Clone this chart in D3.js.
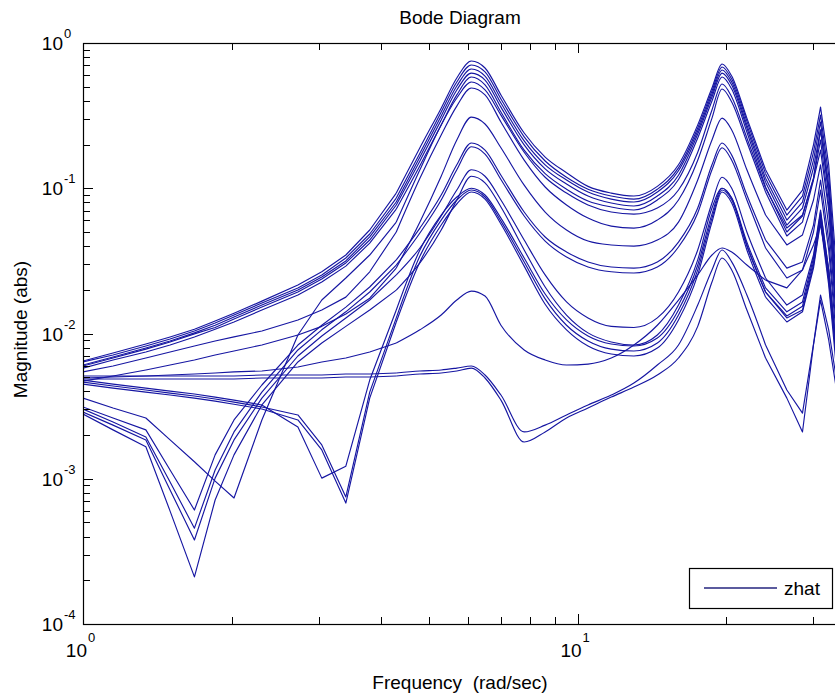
<!DOCTYPE html>
<html>
<head>
<meta charset="utf-8">
<title>Bode Diagram</title>
<script src="https://cdn.jsdelivr.net/npm/d3@7/dist/d3.min.js"></script>
<style>
  html, body { margin: 0; padding: 0; background: #fff; }
  svg { display: block; }
  text { font-family: "Liberation Sans", Arial, Helvetica, sans-serif; fill: #000; }
</style>
</head>
<body>
<svg id="chart" width="835" height="698"></svg>
<script>
// Frequency grid (rad/sec) shared by every response
const freq = [1, 1.15, 1.34, 1.5, 1.68, 1.85, 2.02, 2.3, 2.72, 3.04, 3.4, 3.8, 4.3, 4.8, 5.3, 5.7, 6.1, 6.5, 7.0, 7.8,
              8.6, 9.5, 10.5, 11.7, 13, 14.5, 16, 17.5, 18.7, 19.6, 20.5, 22, 24, 26.5, 28.5, 30, 31, 32.2, 33.4];

// Magnitude (abs) of each channel of zhat
const zhat01 = [0.00646,0.00734,0.00846,0.00947,0.0107,0.0122,0.0138,0.0167,0.0216,0.0266,0.0347,0.0516,0.0926,0.190,0.356,0.574,0.752,0.673,0.439,0.240,0.164,0.128,0.103,0.0926,0.0884,0.103,0.145,0.273,0.490,0.717,0.592,0.304,0.134,0.0708,0.0972,0.199,0.362,0.145,0.0274];
const zhat02 = [0.00637,0.00711,0.00820,0.00916,0.0104,0.0118,0.0134,0.0162,0.0206,0.0253,0.0331,0.0484,0.0856,0.174,0.335,0.539,0.706,0.632,0.412,0.226,0.154,0.119,0.0985,0.0884,0.0842,0.0985,0.138,0.260,0.467,0.684,0.565,0.290,0.126,0.0654,0.0884,0.177,0.319,0.123,0.0216];
const zhat03 = [0.00607,0.00689,0.00794,0.00888,0.0101,0.0114,0.0130,0.0157,0.0199,0.0245,0.0316,0.0462,0.0804,0.164,0.314,0.506,0.662,0.592,0.386,0.212,0.145,0.114,0.0942,0.0842,0.0804,0.0942,0.132,0.248,0.446,0.652,0.539,0.273,0.117,0.0604,0.0804,0.156,0.286,0.105,0.0170];
const zhat04 = [0.00597,0.00678,0.00781,0.00874,0.00994,0.0110,0.0126,0.0152,0.0193,0.0237,0.0306,0.0440,0.0767,0.154,0.295,0.475,0.621,0.556,0.362,0.199,0.136,0.107,0.0884,0.0791,0.0755,0.0884,0.123,0.236,0.425,0.621,0.514,0.260,0.110,0.0558,0.0731,0.138,0.252,0.0898,0.0145];
const zhat05 = [0.00578,0.00657,0.00746,0.00833,0.00947,0.0107,0.0120,0.0145,0.0184,0.0226,0.0291,0.0419,0.0719,0.143,0.273,0.439,0.583,0.514,0.335,0.183,0.126,0.0985,0.0817,0.0743,0.0708,0.0830,0.115,0.222,0.399,0.583,0.482,0.244,0.102,0.0500,0.0644,0.117,0.215,0.0767,0.0124];
const zhat06 = [0.00544,0.00597,0.00678,0.00746,0.00820,0.00888,0.00947,0.0104,0.0124,0.0145,0.0178,0.0266,0.0500,0.117,0.233,0.368,0.490,0.439,0.286,0.156,0.102,0.0767,0.0623,0.0549,0.0532,0.0604,0.0830,0.156,0.304,0.482,0.392,0.208,0.0942,0.0469,0.0585,0.114,0.183,0.0708,0.0170];
const zhat07 = [0.00470,0.00510,0.00561,0.00607,0.00657,0.00711,0.00758,0.00833,0.00977,0.0112,0.0136,0.0175,0.0282,0.0585,0.121,0.215,0.309,0.277,0.190,0.105,0.0686,0.0516,0.0433,0.0407,0.0400,0.0440,0.0585,0.114,0.215,0.304,0.252,0.134,0.0654,0.0407,0.0477,0.0830,0.145,0.0558,0.0124];
const zhat08 = [0.00359,0.00307,0.00262,0.00185,0.00131,0.000964,0.000737,0.00254,0.00977,0.0170,0.0241,0.0347,0.0585,0.134,0.273,0.418,0.539,0.475,0.319,0.177,0.119,0.0926,0.0767,0.0686,0.0664,0.0731,0.0972,0.177,0.346,0.522,0.425,0.222,0.100,0.0532,0.0654,0.117,0.252,0.0972,0.0199];
const zhat09 = [0.00312,0.00262,0.00217,0.00115,0.000609,0.00146,0.00254,0.00442,0.00833,0.0114,0.0152,0.0209,0.0321,0.0532,0.0898,0.145,0.205,0.183,0.123,0.0686,0.0462,0.0364,0.0311,0.0287,0.0282,0.0311,0.0426,0.0731,0.145,0.205,0.169,0.0898,0.0440,0.0282,0.0311,0.0558,0.114,0.0440,0.0106];
const zhat10 = [0.00302,0.00246,0.00194,0.000950,0.000457,0.00115,0.00210,0.00395,0.00770,0.0106,0.0141,0.0193,0.0296,0.0492,0.0830,0.134,0.193,0.172,0.115,0.0644,0.0433,0.0336,0.0287,0.0266,0.0261,0.0287,0.0394,0.0675,0.134,0.190,0.156,0.0830,0.0388,0.0241,0.0274,0.0500,0.0972,0.0376,0.00902];
const zhat11 = [0.00288,0.00234,0.00185,0.000837,0.000379,0.00101,0.00185,0.00359,0.00700,0.00961,0.0128,0.0170,0.0253,0.0388,0.0644,0.0972,0.134,0.121,0.0830,0.0440,0.0253,0.0165,0.0128,0.0112,0.0110,0.0128,0.0193,0.0376,0.0791,0.119,0.100,0.0500,0.0241,0.0157,0.0184,0.0347,0.0708,0.0274,0.00770];
const zhat12 = [0.00279,0.00217,0.00166,0.000599,0.000211,0.000714,0.00146,0.00322,0.00637,0.00860,0.0112,0.0145,0.0199,0.0306,0.0516,0.0830,0.121,0.109,0.0743,0.0376,0.0209,0.0134,0.0101,0.00874,0.00833,0.00977,0.0157,0.0321,0.0731,0.100,0.0856,0.0407,0.0193,0.0128,0.0145,0.0296,0.0604,0.0233,0.00657];
const zhat13 = [0.00478,0.00448,0.00421,0.00401,0.00383,0.00365,0.00348,0.00322,0.00227,0.00101,0.00122,0.00478,0.0145,0.0376,0.0654,0.0870,0.100,0.0898,0.0623,0.0331,0.0187,0.0124,0.00961,0.00846,0.00820,0.00931,0.0145,0.0296,0.0664,0.100,0.0856,0.0426,0.0206,0.0141,0.0165,0.0331,0.0686,0.0274,0.00711];
const zhat14 = [0.00463,0.00435,0.00408,0.00389,0.00371,0.00354,0.00337,0.00312,0.00275,0.00171,0.000749,0.00395,0.0128,0.0341,0.0604,0.0830,0.0972,0.0870,0.0594,0.0311,0.0173,0.0114,0.00888,0.00781,0.00758,0.00860,0.0134,0.0274,0.0623,0.0972,0.0830,0.0400,0.0193,0.0132,0.0154,0.0311,0.0644,0.0241,0.00637];
const zhat15 = [0.00448,0.00421,0.00395,0.00377,0.00359,0.00342,0.00326,0.00302,0.00254,0.00158,0.000680,0.00359,0.0120,0.0311,0.0558,0.0779,0.0942,0.0842,0.0567,0.0291,0.0159,0.0106,0.00820,0.00722,0.00700,0.00794,0.0124,0.0253,0.0585,0.0942,0.0791,0.0376,0.0178,0.0120,0.0141,0.0282,0.0585,0.0216,0.00561];
const zhat16 = [0.00494,0.00502,0.00510,0.00518,0.00526,0.00535,0.00544,0.00552,0.00588,0.00637,0.00678,0.00746,0.00860,0.0106,0.0134,0.0170,0.0196,0.0181,0.0114,0.00770,0.00657,0.00607,0.00616,0.00678,0.00833,0.0114,0.0170,0.0253,0.0347,0.0388,0.0364,0.0296,0.0233,0.0206,0.0274,0.0407,0.0558,0.0274,0.00770];
const zhat17 = [0.00510,0.00510,0.00510,0.00510,0.00510,0.00510,0.00510,0.00518,0.00518,0.00518,0.00526,0.00526,0.00535,0.00552,0.00561,0.00578,0.00597,0.00518,0.00377,0.00210,0.00234,0.00275,0.00322,0.00377,0.00456,0.00607,0.00833,0.0157,0.0274,0.0376,0.0311,0.0184,0.00833,0.00408,0.00283,0.00846,0.0184,0.0106,0.00478];
const zhat18 = [0.00486,0.00486,0.00486,0.00486,0.00486,0.00486,0.00486,0.00494,0.00494,0.00494,0.00502,0.00502,0.00510,0.00526,0.00535,0.00552,0.00578,0.00494,0.00348,0.00179,0.00210,0.00262,0.00307,0.00365,0.00428,0.00518,0.00678,0.0112,0.0226,0.0331,0.0274,0.0145,0.00678,0.00359,0.00210,0.00833,0.0170,0.00902,0.00408];

const responses = [zhat01, zhat02, zhat03, zhat04, zhat05, zhat06, zhat07, zhat08, zhat09,
                   zhat10, zhat11, zhat12, zhat13, zhat14, zhat15, zhat16, zhat17, zhat18];

// Axis limits and decade labels
const freqLimits = [1, 33.47];
const magLimits = [1e-4, 1];
const xDecades = [1, 10];
const xDecadeExps = ["0", "1"];
const yDecades = [1, 1e-1, 1e-2, 1e-3, 1e-4];
const yDecadeExps = ["0", "-1", "-2", "-3", "-4"];

const titleText = "Bode Diagram";
const xLabelText = "Frequency  (rad/sec)";
const yLabelText = "Magnitude (abs)";
const legendLabels = ["zhat"];

// ---- layout ----
const box = { left: 83, top: 43, right: 837, bottom: 624 };
const lineColor = "#1616a2";
const svg = d3.select("#chart");

const x = d3.scaleLog().domain(freqLimits).range([box.left, box.right]);
const y = d3.scaleLog().domain(magLimits).range([box.bottom, box.top]);

const isDecade = v => Math.abs(Math.log10(v) - Math.round(Math.log10(v))) < 1e-9;
const xMinor = x.ticks().filter(v => !isDecade(v));
const yMinor = y.ticks().filter(v => !isDecade(v));

// clip for the response curves
svg.append("defs").append("clipPath").attr("id", "plotClip")
  .append("rect")
  .attr("x", box.left).attr("y", box.top)
  .attr("width", box.right - box.left).attr("height", box.bottom - box.top);

svg.append("rect")
  .attr("x", box.left).attr("y", box.top)
  .attr("width", box.right - box.left).attr("height", box.bottom - box.top)
  .attr("fill", "#fff");

// Responses: the sparse low/high frequency stretches are joined point to point,
// the densely resolved resonance band is drawn as a smooth monotone curve.
const pieces = [
  { from: 0, to: 12, curve: d3.curveLinear },
  { from: 12, to: 32, curve: d3.curveMonotoneX },
  { from: 32, to: freq.length - 1, curve: d3.curveLinear }
];
const curves = svg.append("g").attr("clip-path", "url(#plotClip)")
  .attr("fill", "none")
  .attr("stroke", lineColor)
  .attr("stroke-width", 1.15)
  .attr("stroke-linejoin", "round");

curves.selectAll("g")
  .data(responses)
  .join("g")
  .each(function (mag) {
    const pts = mag.map((m, i) => [x(freq[i]), y(m)]);
    d3.select(this).selectAll("path")
      .data(pieces)
      .join("path")
      .attr("d", p => d3.line().curve(p.curve)(pts.slice(p.from, p.to + 1)));
  });

// ---- axes (ticks point inward) ----
function tickAxis(axisFn, scale, values, size, transform) {
  const g = svg.append("g")
    .attr("transform", transform)
    .call(axisFn(scale).tickValues(values).tickSize(size).tickSizeOuter(0).tickFormat(""));
  g.select(".domain").remove();
  g.selectAll("line").attr("stroke", "#000").attr("shape-rendering", "crispEdges");
  return g;
}
const majorLen = 10, minorLen = 7;
tickAxis(d3.axisBottom, x, xDecades, -majorLen, `translate(0,${box.bottom})`);
tickAxis(d3.axisBottom, x, xMinor, -minorLen, `translate(0,${box.bottom})`);
tickAxis(d3.axisTop, x, xDecades, -majorLen, `translate(0,${box.top})`);
tickAxis(d3.axisTop, x, xMinor, -minorLen, `translate(0,${box.top})`);
tickAxis(d3.axisLeft, y, yDecades, -majorLen, `translate(${box.left},0)`);
tickAxis(d3.axisLeft, y, yMinor, -minorLen, `translate(${box.left},0)`);

svg.append("rect")
  .attr("x", box.left + 0.5).attr("y", box.top + 0.5)
  .attr("width", box.right - box.left).attr("height", box.bottom - box.top)
  .attr("fill", "none").attr("stroke", "#000").attr("stroke-width", 1.2);

// ---- decade labels 10^n ----
const baseSize = 19, expSize = 13;
const yLab = svg.append("g");
yDecades.forEach((v, i) => {
  const ty = y(v);
  yLab.append("text").attr("x", box.left - 20).attr("y", ty + 7)
    .attr("text-anchor", "end").attr("font-size", baseSize).text("10");
  yLab.append("text").attr("x", box.left - 19).attr("y", ty - 5)
    .attr("text-anchor", "start").attr("font-size", expSize).text(yDecadeExps[i]);
});
const xLab = svg.append("g");
xDecades.forEach((v, i) => {
  const tx = x(v);
  xLab.append("text").attr("x", tx + 4).attr("y", box.bottom + 33)
    .attr("text-anchor", "end").attr("font-size", baseSize).text("10");
  xLab.append("text").attr("x", tx + 5).attr("y", box.bottom + 18)
    .attr("text-anchor", "start").attr("font-size", expSize).text(xDecadeExps[i]);
});

// ---- title and axis labels ----
const midX = (box.left + box.right) / 2;
svg.append("text").attr("x", midX).attr("y", 24)
  .attr("text-anchor", "middle").attr("font-size", baseSize).text(titleText);
svg.append("text").attr("x", midX).attr("y", 689)
  .attr("text-anchor", "middle").attr("font-size", baseSize)
  .style("white-space", "pre").text(xLabelText);
svg.append("text")
  .attr("transform", `translate(27,${(box.top + box.bottom) / 2 - 4}) rotate(-90)`)
  .attr("text-anchor", "middle").attr("font-size", baseSize).text(yLabelText);

// ---- legend ----
const lg = svg.append("g").attr("transform", "translate(689,568)");
lg.append("rect").attr("x", 0.5).attr("y", 0.5).attr("width", 143).attr("height", 40)
  .attr("fill", "#fff").attr("stroke", "#000").attr("stroke-width", 1.2);
legendLabels.forEach((lab, i) => {
  lg.append("line").attr("x1", 15).attr("x2", 88).attr("y1", 20 + i * 20).attr("y2", 20 + i * 20)
    .attr("stroke", "#24247e").attr("stroke-width", 1.3);
  lg.append("text").attr("x", 95).attr("y", 27 + i * 20).attr("font-size", baseSize).text(lab);
});
</script>
</body>
</html>
